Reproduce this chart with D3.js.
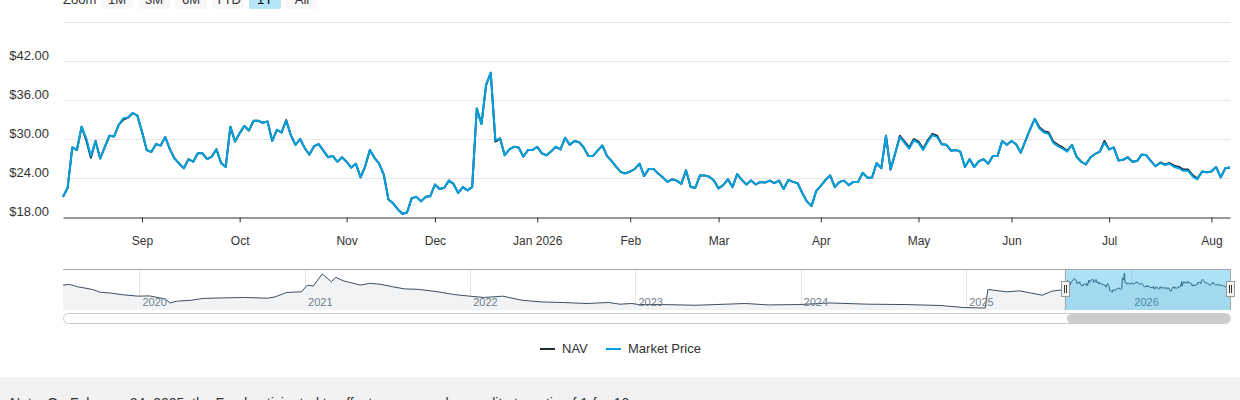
<!DOCTYPE html>
<html>
<head>
<meta charset="utf-8">
<script src="https://cdn.jsdelivr.net/npm/d3@7"></script>
<style>
body{margin:0;background:#fff;font-family:"Liberation Sans",Arial,sans-serif;}
svg{display:block}
</style>
</head>
<body>
<svg id="chart" width="1240" height="400"></svg>
<script>

// ===== DATA =====
// one value per trading day, Aug 7 2025 .. Aug 7 2026
var priceValues = [
21.1,22.5,28.7,28.3,31.9,30.1,27.4,29.7,27.0,28.8,
30.5,30.4,32.2,33.2,33.3,34.0,33.6,31.1,28.3,28.0,
29.2,29.0,30.3,28.4,27.0,26.2,25.5,26.9,26.5,27.8,
27.8,26.9,27.3,28.4,26.3,25.7,31.9,29.6,30.9,32.0,
31.3,32.8,32.8,32.5,32.7,29.7,31.4,31.0,32.8,30.6,
29.1,30.0,28.6,27.6,28.9,29.2,28.2,27.2,27.4,26.5,
27.2,26.5,25.6,26.2,24.1,25.8,28.3,27.1,26.2,24.5,
20.7,20.1,19.2,18.5,18.7,20.9,21.1,20.4,21.1,21.2,
23.0,22.3,22.5,23.6,23.1,21.7,22.6,22.1,22.6,34.7,
32.3,38.3,40.2,29.8,30.1,27.5,28.4,28.8,28.7,27.3,
28.3,28.3,28.8,27.8,27.5,28.1,28.8,28.4,30.2,29.1,
29.7,29.5,28.7,27.4,27.4,28.2,29.0,27.4,26.6,25.7,
24.9,24.7,25.0,25.4,26.2,24.3,25.4,25.4,24.7,24.1,
23.4,23.8,23.6,23.1,25.2,22.6,22.5,24.4,24.4,24.2,
23.6,22.4,22.9,23.8,22.6,24.6,23.7,23.0,23.6,23.0,
23.4,23.3,23.6,23.2,23.6,22.3,23.7,23.4,23.2,21.7,
20.4,19.7,22.0,22.8,23.7,24.4,22.6,23.4,23.6,22.9,
23.4,23.4,24.8,24.05,24.05,26.3,25.5,30.5,25.3,27.8,
30.3,29.4,28.5,29.8,29.4,28.3,29.6,30.6,30.3,29.2,
29.1,28.2,28.3,28.05,25.7,26.9,25.7,26.6,26.9,26.2,
27.4,27.4,29.7,29.1,29.7,29.2,27.9,29.7,31.5,33.1,
31.6,31.0,30.8,29.4,28.9,28.5,28.05,29.1,27.3,26.5,
26.1,27.2,27.7,28.05,29.4,28.4,28.7,26.7,26.8,27.2,
26.5,26.6,27.6,27.5,26.6,25.8,26.3,26.0,26.2,25.7,
25.5,25.1,25.1,24.2,23.8,25.0,24.9,25.0,25.7,24.1,
25.5,25.6]

var navValues = [
21.1,22.5,28.7,28.3,31.9,29.8,27.1,29.7,27.0,28.8,
30.5,30.4,32.2,33.0,33.3,34.0,33.6,31.1,28.3,28.0,
29.2,29.0,30.3,28.4,27.0,26.2,25.5,26.9,26.5,27.8,
27.8,26.9,27.3,28.4,26.3,25.7,31.9,29.6,30.9,32.0,
31.3,32.8,32.8,32.5,32.7,29.7,31.4,31.0,32.9,30.6,
29.1,30.0,28.6,27.6,28.9,29.2,28.2,27.2,27.4,26.5,
27.2,26.5,25.6,26.2,24.1,25.8,28.3,27.1,26.2,24.5,
20.7,20.1,19.2,18.5,18.7,20.9,21.1,20.4,21.1,21.2,
23.0,22.3,22.5,23.6,23.1,21.7,22.6,22.1,22.6,34.7,
32.3,38.3,40.2,29.6,30.1,27.5,28.4,28.8,28.7,27.3,
28.3,28.3,28.8,27.8,27.5,28.1,28.8,28.4,30.2,29.1,
29.7,29.5,28.7,27.4,27.4,28.2,29.0,27.4,26.6,25.7,
24.9,24.7,25.0,25.4,26.2,24.3,25.4,25.4,24.7,24.1,
23.4,23.8,23.6,23.1,25.2,22.6,22.5,24.4,24.4,24.2,
23.6,22.4,22.9,23.8,22.6,24.6,23.7,23.0,23.6,23.0,
23.4,23.3,23.6,23.2,23.6,22.3,23.7,23.4,23.2,21.7,
20.4,19.7,22.0,22.8,23.7,24.4,22.6,23.4,23.6,22.9,
23.4,23.4,24.8,24.05,24.05,26.3,25.5,30.5,25.3,27.8,
30.5,29.6,28.7,30.0,29.6,28.5,29.8,30.8,30.5,29.2,
29.1,28.2,28.3,28.05,25.7,26.9,25.7,26.6,26.9,26.2,
27.4,27.4,29.7,29.1,29.7,29.2,27.9,29.7,31.5,33.1,
31.8,31.2,31.0,29.6,29.1,28.7,28.2,29.1,27.3,26.5,
26.1,27.2,27.7,28.05,29.7,28.4,28.7,26.7,26.8,27.2,
26.5,26.6,27.6,27.5,26.6,25.8,26.4,26.1,26.3,25.9,
25.7,25.3,25.3,24.4,23.9,25.0,24.9,25.0,25.7,24.1,
25.5,25.6]

// market holidays inside the 1Y window
var holidays = ["2025-09-01","2025-11-27","2025-12-25","2026-01-01","2026-01-19",
                "2026-02-16","2026-04-03","2026-05-25","2026-06-19","2026-07-03"]
var firstTradeDay = "2025-08-07"

// longer history, only shown in the navigator
var histDates = ["2019-07-16","2019-07-31","2019-08-17","2019-09-03","2019-09-19","2019-10-06","2019-10-31","2019-11-26","2019-12-29",
"2020-01-23","2020-02-26","2020-03-09","2020-03-23","2020-04-25","2020-05-20","2020-07-01","2020-08-20","2020-10-10","2020-10-27","2020-11-21","2020-12-24",
"2021-01-06","2021-01-19","2021-02-08","2021-02-28","2021-03-10","2021-03-26","2021-04-13","2021-05-03","2021-05-24","2021-06-18","2021-07-14","2021-08-08","2021-09-10","2021-10-22","2021-11-25","2021-12-25",
"2022-02-01","2022-03-14","2022-04-25","2022-06-06","2022-07-26","2022-09-14","2022-11-03","2022-11-28","2022-12-24",
"2023-01-08","2023-02-28","2023-05-15","2023-09-01","2023-10-22","2023-12-29",
"2024-03-06","2024-05-30","2024-08-22","2024-11-06","2024-12-27",
"2025-02-12","2025-02-18","2025-03-31","2025-04-29","2025-06-18","2025-07-10","2025-07-27"]
var histNav = [26.5,27.3,24.6,23.1,21.6,18.5,17.4,15.5,14.0,
14.3,10.9,6.3,8.3,9.4,11.4,12.0,12.5,11.7,13.2,18.2,18.9,
26.5,25.4,39.1,30.3,35.3,31.4,29.1,26.5,28.5,27.3,24.6,22.3,21.6,18.9,15.9,14.3,
12.5,14.0,9.4,7.5,6.8,5.7,6.8,4.9,5.7,
4.5,4.5,3.7,5.7,4.1,4.5,
6.3,4.9,4.5,3.4,1.1,
0.6,21.6,18.9,20.0,15.1,19.7,20.8]

var yTicks = [18,24,30,36,42,48]
var zoomButtons = ["1M","3M","6M","YTD","1Y","All"]
var selectedButton = "1Y"
var seriesNames = ["NAV","Market Price"]
var seriesColors = ["#1f2b37","#00a1de"]
var footnote = "Note: On February 24, 2025, the Fund anticipated to effect a reverse share split at a ratio of 1-for-10."

// ===== LAYOUT =====
var plotLeft = 63, plotRight = 1230, plotTop = 22, plotBottom = 217
var navTop = 269, navBottom = 310

var svg = d3.select("#chart")
var parse = d3.timeParse("%Y-%m-%d"), fmt = d3.timeFormat("%Y-%m-%d")

// trading days for the 1Y series (weekdays minus holidays)
var tradeDates = []
var day = parse(firstTradeDay)
while (tradeDates.length < priceValues.length) {
	var wd = day.getDay()
	if (wd != 0 && wd != 6 && holidays.indexOf(fmt(day)) < 0) tradeDates.push(day)
	day = d3.timeDay.offset(day, 1)
}
var N = tradeDates.length

// first trading day of each month gets a tick
var monthIdx = []
for (var i = 1; i < N; i++) {
	if (tradeDates[i].getMonth() != tradeDates[i-1].getMonth()) monthIdx.push(i)
}

var x = d3.scaleLinear().domain([0, N-1]).range([plotLeft, plotRight])
var y = d3.scaleLinear().domain([18, 48]).range([plotBottom, plotTop])

// zoom buttons row (cut off at the top)
svg.append("text").attr("x", 63).attr("y", 4).text("Zoom")
	.attr("fill", "#333").style("font-size", "13px")
var btn = svg.selectAll(".btn").data(zoomButtons).enter().append("g")
	.attr("transform", function(d, i){ return "translate(" + (101 + i*37) + ",0)" })
btn.append("rect").attr("x", 0).attr("y", -14).attr("width", 32).attr("height", 23).attr("rx", 2)
	.attr("fill", function(d){ return d == selectedButton ? "#b6e4f8" : "#f7f7f7" })
btn.append("text").attr("x", 16).attr("y", 4).attr("text-anchor", "middle")
	.attr("fill", function(d){ return d == selectedButton ? "#000" : "#333" })
	.style("font-size", "13px").text(function(d){ return d })

// horizontal grid
svg.selectAll(".grid").data(yTicks.slice(1)).enter().append("line")
	.attr("x1", plotLeft).attr("x2", plotRight)
	.attr("y1", function(d){ return Math.round(y(d)) + 0.5 })
	.attr("y2", function(d){ return Math.round(y(d)) + 0.5 })
	.attr("stroke", "#e6e6e6")

// y labels
svg.selectAll(".ylab").data(yTicks.slice(0, -1)).enter().append("text")
	.attr("x", 49).attr("y", function(d){ return y(d) - 1 })
	.attr("text-anchor", "end").attr("fill", "#333").style("font-size", "13px")
	.text(function(d){ return "$" + d.toFixed(2) })

// x axis
var fmtMonth = d3.timeFormat("%b"), fmtJan = d3.timeFormat("%b %Y")
var xAxis = d3.axisBottom(x).tickValues(monthIdx).tickSize(5).tickSizeOuter(0).tickPadding(14)
	.tickFormat(function(i){ var dt = tradeDates[i]; return dt.getMonth() == 0 ? fmtJan(dt) : fmtMonth(dt) })
var gx = svg.append("g").attr("transform", "translate(0," + (plotBottom + 0.5) + ")").call(xAxis)
gx.select(".domain").attr("stroke", "#333")
gx.selectAll(".tick line").attr("stroke", "#333")
gx.selectAll(".tick text").attr("fill", "#333").style("font-size", "12px")
	.style("font-family", '"Liberation Sans",Arial,sans-serif')

// series
var line = d3.line().x(function(d, i){ return x(i) }).y(function(d){ return y(d) })
var series = [navValues, priceValues]
series.forEach(function(vals, s){
	svg.append("path").datum(vals).attr("d", line)
		.attr("fill", "none").attr("stroke", seriesColors[s])
		.attr("stroke-width", 2).attr("stroke-linejoin", "round")
})

// ===== NAVIGATOR =====
var allDates = histDates.map(parse).concat(tradeDates)
var allNav = histNav.concat(navValues)
var navX = d3.scaleTime().domain([allDates[0], allDates[allDates.length-1]]).range([plotLeft, plotRight])
var navY = d3.scaleLinear().domain(d3.extent(allNav)).range([308, 273])

var years = d3.timeYear.range(d3.timeYear.ceil(allDates[0]), allDates[allDates.length-1])
svg.selectAll(".ygrid").data(years).enter().append("line")
	.attr("x1", function(d){ return Math.round(navX(d)) + 0.5 })
	.attr("x2", function(d){ return Math.round(navX(d)) + 0.5 })
	.attr("y1", navTop).attr("y2", navBottom).attr("stroke", "#e6e6e6")

var navArea = d3.area().x(function(d, i){ return navX(allDates[i]) })
	.y0(navBottom).y1(function(d){ return navY(d) })
var navLine = d3.line().x(function(d, i){ return navX(allDates[i]) }).y(function(d){ return navY(d) })
svg.append("path").datum(allNav).attr("d", navArea).attr("fill", "#f1f3f5")
svg.append("path").datum(allNav).attr("d", navLine)
	.attr("fill", "none").attr("stroke", "#3e4f60").attr("stroke-width", 1)

svg.selectAll(".ytext").data(years).enter().append("text")
	.attr("x", function(d){ return navX(d) + 3 }).attr("y", 306)
	.attr("fill", "#6f7f90").style("font-size", "11px")
	.text(d3.timeFormat("%Y"))

// selected window
var selL = navX(tradeDates[0]), selR = navX(tradeDates[N-1])
svg.append("rect").attr("x", selL).attr("y", navTop).attr("width", selR - selL).attr("height", navBottom - navTop)
	.attr("fill", "rgba(0,163,224,0.32)")
svg.append("line").attr("x1", plotLeft).attr("x2", plotRight).attr("y1", navTop + 0.5).attr("y2", navTop + 0.5)
	.attr("stroke", "#a6a6a6")
;[selL, selR].forEach(function(hx){
	svg.append("line").attr("x1", Math.round(hx) + 0.5).attr("x2", Math.round(hx) + 0.5)
		.attr("y1", navTop).attr("y2", navBottom).attr("stroke", "#a6a6a6")
	var h = svg.append("g").attr("transform", "translate(" + Math.round(hx) + ",0)")
	h.append("rect").attr("x", -3.5).attr("y", 281.5).attr("width", 8).attr("height", 15)
		.attr("fill", "#f2f2f2").attr("stroke", "#999")
	h.append("line").attr("x1", -0.5).attr("x2", -0.5).attr("y1", 285).attr("y2", 293).attr("stroke", "#333")
	h.append("line").attr("x1", 1.5).attr("x2", 1.5).attr("y1", 285).attr("y2", 293).attr("stroke", "#333")
})

// scrollbar
svg.append("rect").attr("x", plotLeft + 0.5).attr("y", 313.5).attr("width", plotRight - plotLeft).attr("height", 10)
	.attr("rx", 5).attr("fill", "#fff").attr("stroke", "#ccc")
svg.append("rect").attr("x", selL + 2).attr("y", 314).attr("width", selR - selL - 2).attr("height", 9)
	.attr("rx", 4.5).attr("fill", "#ccc")

// ===== LEGEND =====
var legendX = [540, 606]
seriesNames.forEach(function(name, s){
	svg.append("line").attr("x1", legendX[s]).attr("x2", legendX[s] + 15).attr("y1", 349).attr("y2", 349)
		.attr("stroke", seriesColors[s]).attr("stroke-width", 2)
	svg.append("text").attr("x", legendX[s] + 22).attr("y", 353).attr("fill", "#333")
		.style("font-size", "13px").text(name)
})

// footnote band (cut off by the window)
svg.append("rect").attr("x", 0).attr("y", 377).attr("width", 1240).attr("height", 30).attr("fill", "#f2f2f2")
svg.append("text").attr("x", 10).attr("y", 408).attr("fill", "#333").style("font-size", "14px").text(footnote)

</script>
</body>
</html>
